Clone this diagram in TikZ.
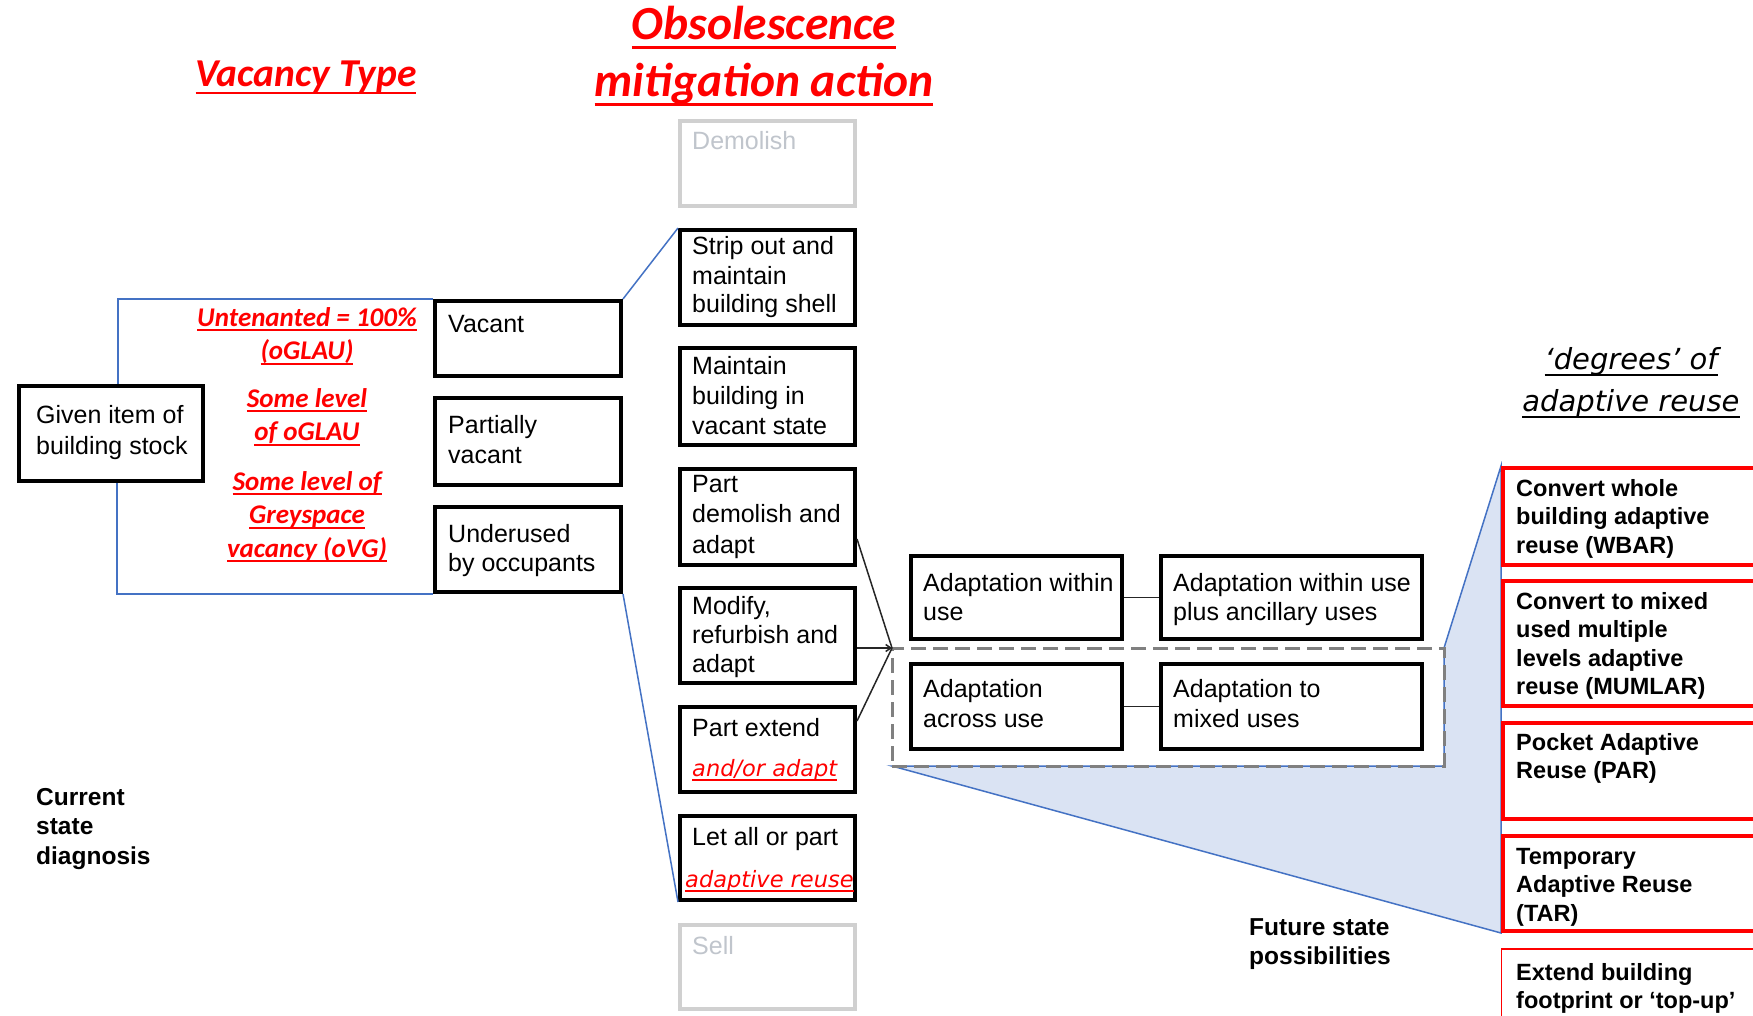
\documentclass[tikz,border=0pt]{standalone}
\usepackage{fontspec}
\setmainfont{Liberation Sans}
\newfontfamily\calfont{Carlito}
\newfontfamily\verdfont{DejaVu Sans}
\usetikzlibrary{calc,arrows.meta}

\definecolor{accentred}{RGB}{255,0,0}
\definecolor{linkblue}{RGB}{68,114,196}
\definecolor{shadeblue}{RGB}{218,227,243}
\definecolor{fadegrey}{RGB}{208,208,208}
\definecolor{fadetext}{RGB}{192,197,204}
\definecolor{dashgrey}{RGB}{128,128,128}

% underline with explicit depth (bottom of the rule) and thickness
\newsavebox\ulbox
\newcommand\myul[3]{\leavevmode\sbox\ulbox{#3}%
  \rlap{\raisebox{-#1}[0pt][0pt]{\rule{\wd\ulbox}{#2}}}\usebox\ulbox}
% multi-line text blocks, baseline at the first line
\newcommand\leftlines[1]{\parbox[t]{500pt}{\raggedright #1}}
\newcommand\midlines[1]{\parbox[t]{500pt}{\centering #1}}

\tikzset{
  blk/.style={draw=black, line width=4pt, fill=white, inner sep=0pt},
  faded/.style={draw=fadegrey, line width=4pt, fill=white, inner sep=0pt},
  redbox/.style={draw=accentred, line width=4.5pt, fill=white, inner sep=0pt},
  txt/.style={inner sep=0pt, anchor=base west, font=\fontsize{25}{29.5}\selectfont},
  boldtxt/.style={inner sep=0pt, anchor=base west, font=\bfseries\fontsize{23.5}{28.6}\selectfont},
  redlbl/.style={inner sep=0pt, anchor=base, text=accentred,
                 font=\calfont\bfseries\itshape\fontsize{27}{33.5}\selectfont},
  redinline/.style={inner sep=0pt, anchor=base west, text=accentred,
                 font=\verdfont\itshape\fontsize{22.5}{28}\selectfont},
  title/.style={inner sep=0pt, anchor=base, text=accentred,
                 font=\calfont\bfseries\itshape\fontsize{47.5}{57}\selectfont},
  blueln/.style={draw=linkblue, line width=1.5pt},
  blackln/.style={draw=black!85, line width=1.5pt},
}

\begin{document}
\begin{tikzpicture}[x=1pt, y=-1pt]
\useasboundingbox (0,0) rectangle (1753,1016);
\clip (0,0) rectangle (1753,1016);
\fill[white] (0,0) rectangle (1753,1016);

% ---- headings
\node[title] (hobs) at (764,40) {\myul{9.5pt}{3pt}{Obsolescence}};
\node[title] (hmit) at (764,97) {\myul{9.5pt}{3pt}{mitigation action}};
\node[title, font=\calfont\bfseries\itshape\fontsize{39.5}{46}\selectfont] (hvac) at (306,87)
  {\myul{7.5pt}{2.5pt}{Vacancy Type}};
\node[inner sep=0pt, anchor=base, font=\verdfont\itshape\fontsize{29}{42}\selectfont] (hdeg) at (1631,369)
  {\midlines{\myul{7pt}{2pt}{‘degrees’ of}\\\myul{7pt}{2pt}{adaptive reuse}}};

% ---- shaded projection towards the degrees of adaptive reuse
\coordinate (gnw) at (892,648);
\coordinate (gse) at (1444,766);
\fill[shadeblue] (gnw |- gse) -- (gse) -- (gse |- gnw) -- (1501,466) -- (1501,933) -- cycle;
\draw[blueln] (gnw |- gse) -- (gse) -- (gse |- gnw) -- (1501,466) -- (1501,933) -- cycle;

% ---- current state
\node[blk, minimum width=184, minimum height=95] (given) at (111,433.5) {};
\node[txt, font=\fontsize{25}{31}\selectfont] (given-t) at (36,423) {\leftlines{Given item of\\building stock}};

\node[blk, minimum width=186, minimum height=75] (vac) at (528,338.5) {};
\node[blk, minimum width=186, minimum height=87] (pvac) at (528,441.5) {};
\node[blk, minimum width=186, minimum height=85] (und) at (528,549.5) {};
\node[txt] (vac-t) at (448,332) {Vacant};
\node[txt, font=\fontsize{25}{30}\selectfont] (pvac-t) at (448,433) {\leftlines{Partially\\vacant}};
\node[txt, font=\fontsize{25}{29}\selectfont] (und-t) at (448,542) {\leftlines{Underused\\by occupants}};

\draw[blueln] (vac.north west) -| ($(given.north)+(7,0)$);
\draw[blueln] ($(given.south)+(6,0)$) |- (und.south west);

\node[redlbl] (lab1) at (307,326) {\midlines{\myul{5pt}{2pt}{Untenanted = 100\%}\\\myul{5pt}{2pt}{(oGLAU)}}};
\node[redlbl] (lab2) at (307,407) {\midlines{\myul{5pt}{2pt}{Some level}\\\myul{5pt}{2pt}{of oGLAU}}};
\node[redlbl] (lab3) at (307,490) {\midlines{\myul{5pt}{2pt}{Some level of}\\\myul{5pt}{2pt}{Greyspace}\\\myul{5pt}{2pt}{vacancy (oVG)}}};

\node[boldtxt, font=\bfseries\fontsize{24.5}{29.5}\selectfont] (cur) at (36,805) {\leftlines{Current\\state\\diagnosis}};

% ---- mitigation actions
\node[faded, minimum width=175, minimum height=85] (dem)   at (767.5,163.5) {};
\node[blk,   minimum width=175, minimum height=95] (strip) at (767.5,277.5) {};
\node[blk,   minimum width=175, minimum height=97] (maint) at (767.5,396.5) {};
\node[blk,   minimum width=175, minimum height=96] (pdem)  at (767.5,517) {};
\node[blk,   minimum width=175, minimum height=95] (modf)  at (767.5,635.5) {};
\node[blk,   minimum width=175, minimum height=85] (pext)  at (767.5,749.5) {};
\node[blk,   minimum width=175, minimum height=84] (letp)  at (767.5,858) {};
\node[faded, minimum width=175, minimum height=84] (sell)  at (767.5,967) {};

\node[txt, text=fadetext] (dem-t) at (692,150) {Demolish};
\node[txt, font=\fontsize{25}{29}\selectfont] (strip-t) at (692,255) {\leftlines{Strip out and\\maintain\\building shell}};
\node[txt, font=\fontsize{25}{30}\selectfont] (maint-t) at (692,374) {\leftlines{Maintain\\building in\\vacant state}};
\node[txt, font=\fontsize{25}{30.5}\selectfont] (pdem-t) at (692,492) {\leftlines{Part\\demolish and\\adapt}};
\node[txt, font=\fontsize{25}{29}\selectfont] (modf-t) at (692,614) {\leftlines{Modify,\\refurbish and\\adapt}};
\node[txt] (pext-t) at (692,736) {Part extend};
\node[redinline] (pext-r) at (692,776) {\myul{4.5pt}{1.6pt}{and/or adapt}};
\node[txt] (letp-t) at (692,845) {Let all or part};
\node[redinline] (letp-r) at (685,887) {\myul{4.5pt}{1.6pt}{adaptive reuse}};
\node[txt, text=fadetext] (sell-t) at (692,954) {Sell};

\draw[blueln] (vac.north east) -- (strip.north west);
\draw[blueln] (und.south east) -- (letp.south west);

% ---- adaptation options
\node[draw=dashgrey, line width=3pt, dash pattern=on 15pt off 7pt, outer sep=0pt,
      minimum width=552, minimum height=118] (grp) at (1168,707) {};

\node[blk, minimum width=211, minimum height=83] (awu) at (1016.5,597.5) {};
\node[blk, minimum width=261, minimum height=83] (awa) at (1291.5,597.5) {};
\node[blk, minimum width=211, minimum height=85] (aac) at (1016.5,706.5) {};
\node[blk, minimum width=261, minimum height=85] (amx) at (1291.5,706.5) {};
\node[txt, font=\fontsize{25}{29}\selectfont] (awu-t) at (923,591) {\leftlines{Adaptation within\\use}};
\node[txt, font=\fontsize{25}{29}\selectfont] (awa-t) at (1173,591) {\leftlines{Adaptation within use\\plus ancillary uses}};
\node[txt, font=\fontsize{25}{30}\selectfont] (aac-t) at (923,697) {\leftlines{Adaptation\\across use}};
\node[txt, font=\fontsize{25}{30}\selectfont] (amx-t) at (1173,697) {\leftlines{Adaptation to\\mixed uses}};

\draw[blackln] (awu.east) -- (awa.west);
\draw[blackln] (aac.east) -- (amx.west);

\draw[blackln] ($(pdem.north east)+(0,72)$) -- (grp.north west);
\draw[blackln, -{Straight Barb[length=5pt,width=7pt]}] (modf.east |- grp.north west) -- (grp.north west);
\draw[blackln] ($(pext.north east)+(0,16)$) -- (grp.north west);

\node[boldtxt, font=\bfseries\fontsize{24.5}{29}\selectfont] (fut) at (1249,935) {\leftlines{Future state\\possibilities}};

% ---- degrees of adaptive reuse
\node[redbox, minimum width=287, minimum height=97]  (wbar) at (1646.5,516.5) {};
\node[redbox, minimum width=287, minimum height=125] (mum)  at (1646.5,643.5) {};
\node[redbox, minimum width=287, minimum height=96]  (par)  at (1646.5,771) {};
\node[redbox, minimum width=287, minimum height=95]  (tar)  at (1646.5,883.5) {};
\node[draw=accentred, line width=1.5pt, fill=white, inner sep=0pt,
      minimum width=288, minimum height=90] (ext) at (1645.5,994) {};

\node[boldtxt] (wbar-t) at (1516,496) {\leftlines{Convert whole\\building adaptive\\reuse (WBAR)}};
\node[boldtxt] (mum-t)  at (1516,609) {\leftlines{Convert to mixed\\used multiple\\levels adaptive\\reuse (MUMLAR)}};
\node[boldtxt] (par-t)  at (1516,750) {\leftlines{Pocket Adaptive\\Reuse (PAR)}};
\node[boldtxt] (tar-t)  at (1516,864) {\leftlines{Temporary\\Adaptive Reuse\\(TAR)}};
\node[boldtxt] (ext-t)  at (1516,980) {\leftlines{Extend building\\footprint or ‘top-up’}};
\end{tikzpicture}
\end{document}
